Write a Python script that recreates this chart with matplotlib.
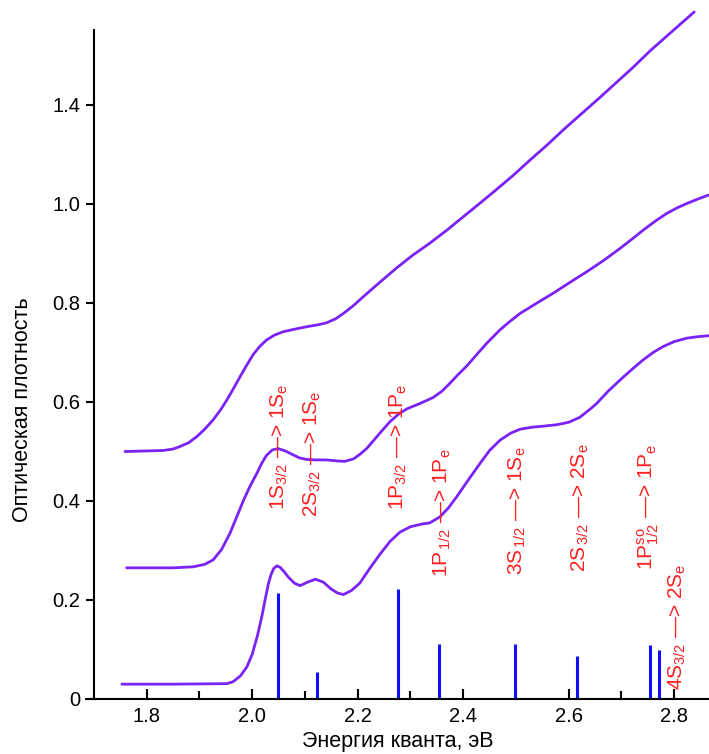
import matplotlib
matplotlib.use("Agg")
import matplotlib.pyplot as plt

# ---------- Fonts ----------
plt.rcParams["font.family"] = ["Liberation Sans", "DejaVu Sans"]
plt.rcParams["mathtext.fontset"] = "custom"
plt.rcParams["mathtext.rm"] = "Liberation Sans"
plt.rcParams["mathtext.it"] = "Liberation Sans"
plt.rcParams["mathtext.default"] = "regular"

# ---------- Data: absorption spectra (three samples, offset) ----------
x_low = [1.753, 1.850, 1.952, 1.964, 1.978, 1.990, 2.000, 2.010, 2.018, 2.025,
         2.031, 2.036, 2.041, 2.047, 2.053, 2.060, 2.068, 2.080, 2.091, 2.105,
         2.120, 2.135, 2.150, 2.162, 2.173, 2.188, 2.204, 2.223, 2.242, 2.261,
         2.280, 2.300, 2.320, 2.337, 2.356, 2.372, 2.388, 2.410, 2.432, 2.450,
         2.470, 2.490, 2.508, 2.530, 2.550, 2.577, 2.600, 2.621, 2.640, 2.653,
         2.675, 2.697, 2.720, 2.741, 2.760, 2.779, 2.800, 2.824, 2.845, 2.866]
y_low = [0.030, 0.030, 0.031, 0.035, 0.047, 0.065, 0.090, 0.128, 0.165, 0.203,
         0.234, 0.252, 0.264, 0.269, 0.266, 0.258, 0.247, 0.234, 0.229, 0.236,
         0.242, 0.236, 0.222, 0.214, 0.211, 0.219, 0.234, 0.264, 0.292, 0.318,
         0.337, 0.348, 0.353, 0.356, 0.368, 0.386, 0.409, 0.443, 0.476, 0.502,
         0.523, 0.537, 0.545, 0.549, 0.551, 0.554, 0.559, 0.569, 0.585, 0.597,
         0.622, 0.644, 0.666, 0.685, 0.700, 0.712, 0.722, 0.729, 0.732, 0.734]

x_mid = [1.762, 1.850, 1.888, 1.910, 1.926, 1.942, 1.958, 1.970, 1.983, 1.996,
         2.009, 2.018, 2.027, 2.038, 2.049, 2.063, 2.078, 2.090, 2.103, 2.120,
         2.141, 2.160, 2.175, 2.192, 2.204, 2.217, 2.230, 2.242, 2.261, 2.278,
         2.293, 2.318, 2.343, 2.360, 2.375, 2.390, 2.407, 2.425, 2.445, 2.470,
         2.490, 2.508, 2.540, 2.571, 2.600, 2.634, 2.665, 2.697, 2.720, 2.741,
         2.765, 2.786, 2.805, 2.824, 2.845, 2.865]
y_mid = [0.265, 0.265, 0.267, 0.272, 0.281, 0.302, 0.335, 0.366, 0.400, 0.430,
         0.456, 0.476, 0.492, 0.503, 0.506, 0.501, 0.493, 0.487, 0.484, 0.483,
         0.483, 0.481, 0.480, 0.485, 0.494, 0.506, 0.522, 0.537, 0.560, 0.576,
         0.586, 0.597, 0.609, 0.622, 0.638, 0.655, 0.673, 0.695, 0.719, 0.746,
         0.764, 0.779, 0.800, 0.820, 0.840, 0.863, 0.885, 0.910, 0.929, 0.947,
         0.966, 0.981, 0.992, 1.001, 1.010, 1.018]

x_top = [1.759, 1.831, 1.850, 1.863, 1.880, 1.895, 1.910, 1.926, 1.940, 1.952,
         1.965, 1.977, 1.990, 2.002, 2.015, 2.027, 2.042, 2.059, 2.080, 2.103,
         2.125, 2.141, 2.158, 2.173, 2.190, 2.211, 2.240, 2.274, 2.305, 2.337,
         2.370, 2.400, 2.430, 2.464, 2.495, 2.527, 2.560, 2.590, 2.625, 2.660,
         2.690, 2.722, 2.755, 2.790, 2.838]
y_top = [0.500, 0.502, 0.505, 0.510, 0.518, 0.530, 0.545, 0.564, 0.584, 0.604,
         0.628, 0.651, 0.675, 0.696, 0.713, 0.725, 0.735, 0.742, 0.747, 0.752,
         0.756, 0.760, 0.768, 0.779, 0.793, 0.813, 0.840, 0.871, 0.897, 0.921,
         0.948, 0.974, 1.000, 1.030, 1.058, 1.089, 1.120, 1.150, 1.183, 1.216,
         1.245, 1.276, 1.310, 1.343, 1.388]

# ---------- Data: calculated transitions ----------
trans_energy = [2.049, 2.123, 2.277, 2.355, 2.498, 2.616, 2.754, 2.772]
trans_strength = [0.214, 0.055, 0.222, 0.111, 0.111, 0.086, 0.109, 0.099]

label_text = [
    r"1S$_{3/2}$ —> 1S$_e$",
    r"2S$_{3/2}$ —> 1S$_e$",
    r"1P$_{3/2}$ —> 1P$_e$",
    r"1P$_{\,1/2}$ —> 1P$_e$",
    r"3S$_{\,1/2}$ —> 1S$_e$",
    r"2S$_{\,3/2}$ —> 2S$_e$",
    r"1P$^{so}_{1/2}$ —> 1P$_e$",
    r"4S$_{3/2}$ —> 2S$_e$",
]
label_x = [2.051, 2.114, 2.277, 2.360, 2.502, 2.622, 2.751, 2.806]
label_y = [0.382, 0.368, 0.382, 0.246, 0.251, 0.257, 0.261, 0.018]

x_ticks = [1.8, 2.0, 2.2, 2.4, 2.6, 2.8]
x_minor = [1.9, 2.1, 2.3, 2.5, 2.7]
y_ticks = [0, 0.2, 0.4, 0.6, 0.8, 1.0, 1.2]
y_tick_labels = ["0", "0.2", "0.4", "0.6", "0.8", "1.0", "1.4"]

# ---------- Plot ----------
W, H = 709, 754
fig = plt.figure(figsize=(W / 100, H / 100), dpi=100)
ax = fig.add_axes([86 / W, (H - 699) / H, (W - 86) / W, 669 / H])

purple = "#7b22f5"
for xs, ys in [(x_low, y_low), (x_mid, y_mid), (x_top, y_top)]:
    ax.plot(xs, ys, color=purple, lw=2.0, solid_capstyle="round",
            solid_joinstyle="round", clip_on=False)

ax.vlines(trans_energy, 0, trans_strength, color="#1010ff", lw=2.2)

for s, tx, ty in zip(label_text, label_x, label_y):
    ax.text(tx, ty, s, rotation=90, ha="center", va="bottom",
            color="#ff1f1f", fontsize=15)

ax.set_xlim(1.685, 2.866)
ax.set_ylim(0, 1.3515)

for side in ["top", "right"]:
    ax.spines[side].set_visible(False)
ax.spines["left"].set_position(("data", 1.70))
ax.spines["left"].set_linewidth(1.5)
ax.spines["bottom"].set_linewidth(1.5)

ax.set_xticks(x_ticks)
ax.set_xticks(x_minor, minor=True)
ax.set_xticklabels([f"{v:.1f}" for v in x_ticks])
ax.tick_params(axis="x", which="major", direction="in", length=7, width=1.5,
               pad=6, labelsize=14.5)
ax.tick_params(axis="x", which="minor", direction="in", length=6, width=1.5)

ax.set_yticks(y_ticks)
ax.set_yticklabels(y_tick_labels)
ax.tick_params(axis="y", direction="out", length=6, width=1.5, pad=4,
               labelsize=14.5)

ax.set_xlabel("Энергия кванта, эВ", fontsize=15.5, labelpad=3)
ax.set_ylabel("Оптическая плотность", fontsize=15.5)
ax.yaxis.set_label_coords(-(86 - 33) / 623, 0.432)

fig.savefig("out.png", dpi=100)
